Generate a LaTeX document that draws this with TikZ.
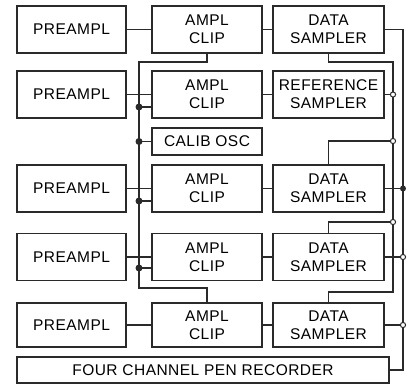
\documentclass[tikz,border=0pt]{standalone}
\usepackage{fontspec}
\setmainfont{Liberation Sans}[LetterSpace=3]
\usepackage{tikz}
\usetikzlibrary{calc}
\definecolor{inkDark}{HTML}{2A2A2A}

\begin{document}
\begin{tikzpicture}[
    x=1bp, y=-1bp,
    font=\fontsize{15.5bp}{18bp}\selectfont,
    block/.style={draw=inkDark, fill=white, line width=1.4bp, inner sep=0pt, outer sep=0pt, minimum height=47bp, align=center},
    prebox/.style={block, minimum width=109bp},
    ampbox/.style={block, minimum width=110bp},
    smpbox/.style={block, minimum width=111bp},
    wire/.style={draw=inkDark, line width=1.2bp},
    busdot/.style={fill=inkDark},
    tapdot/.style={draw=inkDark, fill=white, line width=1bp}
]
\useasboundingbox (0,0) rectangle (416,387);

% preamplifiers
\node[prebox] (pre1) at (71.5,29.5) {PREAMPL};
\node[prebox] (pre2) at (71.5,94.5) {PREAMPL};
\node[prebox] (pre3) at (71.5,188.5) {PREAMPL};
\node[prebox] (pre4) at (71.5,257) {PREAMPL};
\node[prebox, minimum height=44bp] (pre5) at (71.5,325) {PREAMPL};

% clipping amplifiers
\node[ampbox] (amp1) at (207,29.5) {AMPL\\CLIP};
\node[ampbox] (amp2) at (207,94.5) {AMPL\\CLIP};
\node[ampbox, minimum height=27bp] (calib) at (207,141.5) {CALIB OSC};
\node[ampbox] (amp3) at (207,188.5) {AMPL\\CLIP};
\node[ampbox] (amp4) at (207,257) {AMPL\\CLIP};
\node[ampbox, minimum height=44bp] (amp5) at (207,325) {AMPL\\CLIP};

% samplers
\node[smpbox] (smp1) at (328.5,29.5) {DATA\\SAMPLER};
\node[smpbox] (smp2) at (328.5,94.5) {REFERENCE\\SAMPLER};
\node[smpbox] (smp3) at (328.5,188.5) {DATA\\SAMPLER};
\node[smpbox] (smp4) at (328.5,257) {DATA\\SAMPLER};
\node[smpbox, minimum height=44bp] (smp5) at (328.5,325) {DATA\\SAMPLER};

\node[block, minimum width=372bp, minimum height=26bp] (pen) at (203,370) {FOUR CHANNEL PEN RECORDER};

% calibration bus
\coordinate (bt) at (139,62);
\coordinate (bb) at (139,288);
\coordinate (j2) at (139,107);
\coordinate (j3) at (139,201);
\coordinate (j4) at (139,268);
\coordinate (jc) at (calib.west -| bt);

% reference and output lines
\coordinate (ra) at (393,62);
\coordinate (rb) at (393,292);
\coordinate (t2) at (smp2.east -| ra);
\coordinate (t3) at (393,141);
\coordinate (t4) at (393,222);
\coordinate (ob) at (403,370);
\coordinate (o3) at (smp3.east -| ob);
\coordinate (o4) at (smp4.east -| ob);
\coordinate (o5) at (smp5.east -| ob);

\draw[wire] (pre1.east) -- (amp1.west);
\draw[wire] (pre2.east) -- (pre2.east -| amp2.west);
\draw[wire] (pre3.east) -- (pre3.east -| amp3.west);
\draw[wire] (pre4.east) -- (pre4.east -| amp4.west);
\draw[wire] (pre5.east) -- (amp5.west);

\draw[wire] (amp1.east) -- (smp1.west);
\draw[wire] (amp2.east) -- (smp2.west);
\draw[wire] (amp3.east) -- (smp3.west);
\draw[wire] (amp4.east) -- (smp4.west);
\draw[wire] (amp5.east) -- (smp5.west);

\draw[wire] (amp1.south) |- (bt) -- (bb) -| (amp5.north);
\draw[wire] (j2) -- (j2 -| amp2.west);
\draw[wire] (jc) -- (calib.west);
\draw[wire] (j3) -- (j3 -| amp3.west);
\draw[wire] (j4) -- (j4 -| amp4.west);

\draw[wire] (smp1.south) |- (ra) -- (rb) -| (smp5.north);
\draw[wire] (smp2.east) -- (t2);
\draw[wire] (smp3.north) |- (t3);
\draw[wire] (smp4.north) |- (t4);

\draw[wire] (smp1.east) -| (ob) -- (pen.east);
\draw[wire] (smp3.east) -- (o3);
\draw[wire] (smp4.east) -- (o4);
\draw[wire] (smp5.east) -- (o5);

\fill[busdot] (j2) circle (3.5bp);
\fill[busdot] (jc) circle (3.5bp);
\fill[busdot] (j3) circle (3.5bp);
\fill[busdot] (j4) circle (3.5bp);
\fill[busdot] (o3) circle (3bp);
\draw[tapdot] (t2) circle (2.6bp);
\draw[tapdot] (t3) circle (2.6bp);
\draw[tapdot] (t4) circle (2.6bp);
\draw[tapdot] (o4) circle (2.6bp);
\draw[tapdot] (o5) circle (2.6bp);
\end{tikzpicture}
\end{document}
